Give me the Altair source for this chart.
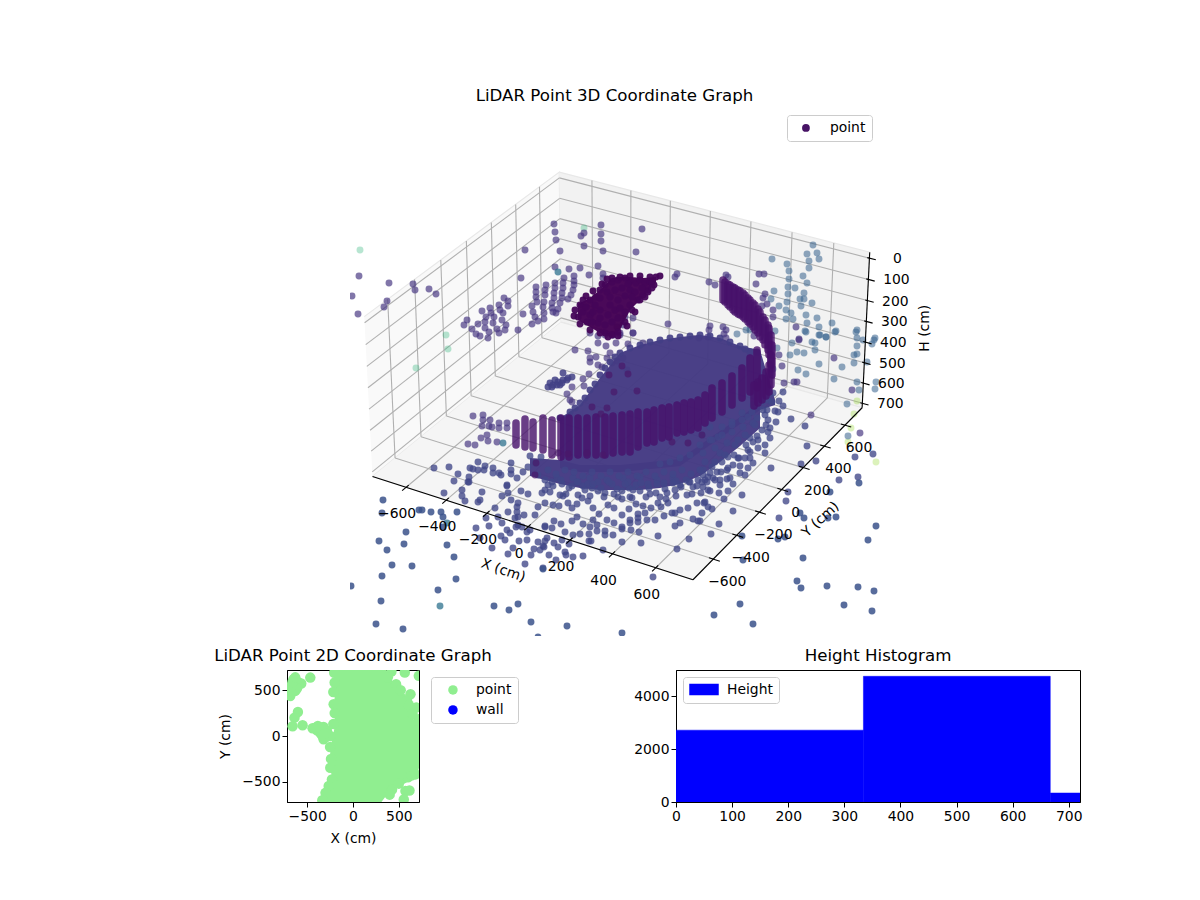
import numpy as np
import pandas as pd
import altair as alt

green_pts = [(360,250),(446,335),(448,349),(416,368),(584,228)]
lime_pts = [(857,401),(854,414),(851,428),(848,442),(876,462)]
teal_pts = [(558,272),(503,443),(447,523),(440,606)]
back_pts = [(359,276),(389,283),(413,284),(415,290),(429,289),(436,294),(352,296),(387,301),(384,307),(358,314),
    (554,224),(555,232),(556,240),(525,250),(560,251),(601,225),(601,234),(601,241),(584,246),(603,251),(584,233),(581,236),
    (555,267),(569,269),(580,268),(589,275),(598,266),(603,274),(603,278),(521,278),
    (574,276),(574,281),(574,285),(573,290),(571,295),(568,299),(564,278),(563,283),(563,288),(562,293),(562,298),(560,303),(558,309),(556,313),
    (555,283),(555,288),(554,293),(554,298),(552,303),(552,308),(553,312),(546,285),(545,290),(545,295),(544,302),(543,307),(544,313),(544,319),
    (536,287),(536,292),(536,297),(537,302),(532,306),(533,312),(535,317),(538,321),(532,324),(523,314),(518,330),
    (504,298),(508,301),(508,306),(499,305),(500,310),(503,313),(502,320),(506,325),(505,330),(499,333),(497,329),(493,323),(494,317),(490,308),(491,313),
    (482,311),(486,317),(485,322),(478,324),(485,328),(489,332),(467,320),(464,325),(472,329),(476,334),(480,336),(488,338),
    (642,229),(636,252),(677,274),(675,277),(709,282),(715,285),(726,275),(728,277),(759,274),(764,274),(756,284),(765,294),(763,298),(767,304),(762,306),
    (773,310),(773,317),(796,327),(668,324),(633,318),(633,333),(710,326),(709,330),(708,337),(723,327),(726,330),(724,334),(699,338),(726,338),(799,339),(754,336),
    (625,317),(617,327),(623,325),(613,335),(620,333),
    (590,333),(598,336),(605,335),(613,335),(620,335),(633,333),(598,343),(616,343),(628,344),(575,350),(588,351),(606,346),(610,353),(590,358),(590,362),
    (596,357),(598,365),(607,358),(602,367),(612,363),(589,374),(583,379),(584,386),(572,387),(567,394),(570,400),(572,402),(617,361),(623,358),(643,343),(627,370),
    (779,355),(782,366),(784,383),(797,382),(794,382),(799,340),(834,358),(852,390),(811,415),(860,433),
    (473,416),(483,415),(483,420),(490,420),(482,426),(489,426),(499,423),(507,423),(492,427),(499,428),(507,428),(487,435),(481,438),(488,441),(468,444),(475,445),(497,442)]
blue_pts = [(772,259),(787,264),(789,271),(789,279),(788,287),(795,288),(788,294),(787,302),(786,310),(786,319),(791,313),(793,319),(803,276),(807,283),
    (813,245),(807,254),(817,253),(809,261),(819,259),(809,268),(804,293),(800,299),(804,299),(801,306),(812,303),(806,315),(817,318),(807,323),(819,327),(805,331),
    (832,323),(836,331),(820,335),(826,337),(856,332),(857,330),(857,338),(874,340),(774,291),(775,331),(746,330),(750,330),(737,334),(771,299),(779,306),
    (777,348),(790,355),(797,352),(804,353),(815,350),(815,343),(812,342),(792,343),(806,332),(819,335),(826,337),(835,332),(842,367),(819,364),(834,379),(854,363),
    (854,355),(857,354),(857,346),(863,340),(872,344),(875,338),(867,362),(857,382),(876,382),(875,389),(859,390),(847,404),(848,436),(798,370),(806,374),(773,369)]
floor_pts = [(434,468),(449,467),(458,474),(470,468),(473,469),(478,462),(485,466),(478,470),(484,470),(493,468),(493,473),(499,473),(501,475),(454,481),(469,477),(468,482),
    (511,463),(511,470),(511,474),(507,485),(530,456),(541,457),(535,463),(528,467),(523,472),(517,478),(538,475),
    (444,493),(462,490),(482,492),(462,496),(465,501),(480,500),(478,502),(469,482),(495,508),(486,518),(508,512),(498,517),(489,526),(502,523),(476,528),(480,538),
    (507,530),(510,533),(501,536),(505,540),(492,548),(513,548),(519,541),(527,540),(508,554),(531,555),(534,549),(540,550),(538,542),(544,547),(516,527),(518,525),
    (524,515),(535,515),(517,512),(517,507),(518,503),(502,496),(511,500),(508,493),(507,486),(521,491),(528,494),(538,507),(542,493),(525,564),(543,568),(545,527),
    (527,532),(530,530),(515,518),(518,517),(522,527),
    (545,526),(552,528),(554,521),(561,524),(565,532),(573,535),(572,521),(577,517),(583,524),(580,534),(589,534),(590,527),(593,520),(597,525),(597,531),(605,531),
    (605,535),(613,535),(614,523),(607,520),(599,514),(593,508),(582,498),(588,501),(577,504),(568,503),(572,508),(553,505),(559,506),(545,503),(560,495),(563,496),
    (572,486),(583,486),(592,488),(598,491),(605,493),(608,505),(614,508),(622,515),(622,499),(629,509),(636,504),(643,506),(651,508),(658,503),(661,507),(650,494),
    (656,493),(640,491),(630,497),(629,488),(622,491),(614,494),(630,520),(630,523),(638,518),(638,522),(645,513),(647,520),(655,520),(638,514),(664,516),(672,513),
    (675,513),(680,510),(688,508),(697,503),(705,502),(693,519),(698,521),(680,523),(675,526),(622,527),(622,529),(631,530),(639,532),(658,536),(689,539),(622,542),
    (641,543),(677,549),(603,550),(589,541),(591,541),(583,556),(573,557),(565,552),(569,544),(562,540),(554,543),(547,538),(545,541),(543,546),(558,547),(549,555),
    (556,560),(566,555),(653,577),(667,493),(666,499),(668,503),(675,490),(687,495),(680,485),(693,487),(703,487),(690,482),(673,478),(657,480),(640,477),(623,478),
    (607,480),(590,478),(573,478),(557,478),(548,485),(545,490),
    (855,457),(873,454),(791,419),(805,426),(807,446),(816,461),(801,464),(771,468),(839,480),(858,477),(783,392),(773,393),(768,400),(779,401),(783,406),(775,411),
    (763,410),(757,418),(768,420),(770,428),(765,445),(765,453),(750,438),(753,442),(738,440),(750,452),(753,463),(739,458),(745,458),(748,468),(740,473),(745,475),
    (727,470),(717,472),(712,467),(733,465),(728,457),(720,453),(715,448),(727,443),(718,437),(710,440),(732,432),(743,427),(753,423),(748,417),(762,430),(742,413),
    (732,422),(722,427),(710,427),(702,435),(703,453),(703,470),(753,405),(767,410),
    (788,492),(786,501),(779,518),(742,495),(733,511),(719,524),(711,534),(724,499),(728,491),(719,493),(733,484),(727,479),(710,491),(701,493),(704,503),(708,507),
    (712,509),(702,513),(700,521),(715,480),(720,480),(707,482),(702,482),(703,475),(710,473),
    (548,470),(556,474),(565,470),(574,472),(583,476),(592,472),(601,476),(610,472),(619,476),(628,472),(637,476),(646,472),(655,476),(664,472),(673,474),(682,470),(691,474),(700,470),
    (552,482),(562,484),(578,482),(588,484),(598,482),(612,484),(628,482),(636,485),(648,484),(664,483),(676,481),(686,480),(698,480),(708,477),(722,462),(734,455),(746,445),(757,436),(766,425),
    (545,480),(553,486),(561,480),(569,488),(577,482),(585,490),(593,484),(601,488),(609,482),(617,489),(625,484),(633,490),(641,483),(649,488),(657,484),(665,489),(673,483),
    (681,487),(689,482),(697,486),(705,480),(713,478),(721,472),(550,492),(566,494),(578,495),(590,496),(604,497),(618,497),(632,498),(646,497),(660,497),(676,496),(692,494),
    (708,490),(720,485),(730,478),(740,466),(750,458),(758,448),(770,438),(725,455),(735,445),(745,435),(755,425),(765,415),(715,462),(705,462),(728,468),(738,458),(748,450),
    (758,440),(768,432),(778,412),(776,422),(772,402),(712,440),(722,435),(732,425),(742,420),(752,412),(762,402),(700,445),(690,455),(680,458),(670,462),(660,464)]
outer_pts = [(383,500),(382,513),(419,510),(422,510),(431,512),(441,512),(457,512),(443,517),(443,527),(406,532),(379,541),(404,544),(447,545),(387,550),(454,557),
    (392,565),(412,566),(382,576),(456,579),(351,586),(438,590),(381,601),(494,606),(509,610),(518,604),(376,624),(403,629),(531,622),(538,637),(543,569),(567,626),(622,633),
    (800,513),(804,518),(828,518),(836,517),(830,492),(859,483),(876,526),(868,540),(742,536),(778,539),(785,537),(803,558),(743,560),(797,581),(801,588),(827,586),
    (858,587),(874,591),(844,605),(872,611),(740,604),(714,615),(753,624)]
cluster_pts = [(580,305),(583,312),(578,317),(587,322),(590,300),(596,297),(600,290),(605,285),(612,282),(618,280),(625,278),(630,281),(636,283),(640,280),(645,283),
    (650,282),(656,277),(652,283),(648,290),(643,295),(638,300),(630,305),(625,312),(618,318),(612,322),(605,325),(598,323),(592,322),(590,315),(586,307),(595,305),
    (600,298),(607,292),(615,290),(622,288),(630,290),(635,292),(600,310),(610,305),(618,300),(625,296),(608,315),(600,318),(593,312),(615,310),(610,297),(620,308),
    (632,297),(642,288),(628,284),(612,335),(618,332),(605,333),(625,322),(632,310),(640,300),(648,292),(654,285),(612,278),(620,277),(630,276),(640,276),(650,277),
    (583,300),(575,310),(574,316),(580,324),(590,330),(600,333),(608,337),(618,336),(627,326),(635,312),(645,297),(652,288),(660,276),(586,296),(593,291),(602,284),(607,279)]
small_blob_pts = [(550,383),(553,385),(558,382),(563,380),(568,378),(572,377),(555,380),(560,385),(548,387),(563,373),(552,387),(557,385),(562,383),(567,380)]
blob_edge_pts = [(620,353),(630,348),(640,345),(650,342),(660,340),(670,338),(680,337),(690,336),(700,335),(710,336),(720,338),(730,342),(740,346),(750,352),
    (610,362),(600,375),(590,390),(580,403),(570,412),(560,418),(575,408),(585,398),(595,384),(605,368),(615,357),(745,349),(757,352)]
dark_dots = [(622,366),(609,375),(628,374),(614,392),(637,391),(592,407),(607,408),(601,414),
    (536,463),(535,475),(568,454),(587,453),(603,455),(672,442),(688,443),(702,435),(558,453)]

# stacks of the wall: x, top, bottom
wall_x = [516,525,533,543,552,561,569,578,587,596,605,613,622,630,638,647,654,662,669,677,684,691,698,705,712,722,732,742,750,757,
    723,725,728,730,733,735,738,740,743,745,748,750,753,755,758,760,763,765,768,769,771,772,771,769,766,762,758,754]
wall_top = [423,419,422,418,420,418,418,418,418,417,417,416,415,414,412,412,410,408,407,405,403,402,400,395,388,383,376,368,358,350,
    280,282,284,285,287,288,290,291,293,295,298,300,303,305,309,312,317,320,325,328,335,345,355,365,372,378,382,385]
wall_bot = [445,447,448,450,455,457,457,455,455,455,455,453,452,452,447,443,442,438,437,433,432,430,428,423,418,412,405,398,392,388,
    300,302,305,307,310,312,314,315,317,319,322,324,327,330,333,337,340,345,350,355,365,375,385,392,396,400,403,406]

# dense middle of the cloud
blob_x = [560,580,600,620,640,660,680,700,720,740,760,775]
blob_top = [418,405,378,353,345,340,337,335,338,346,350,400]
blob_bot = [468,472,472,472,470,468,466,452,438,424,410,405]
haze_x = [530,560,580,600,620,640,660,680,700,720,740,760]
haze_top = [458,460,465,465,465,463,461,459,445,431,417,403]
haze_bot = [476,484,488,490,490,490,488,484,476,462,446,428]
cluster_x = [578,590,600,612,620,630,643,656]
cluster_top = [304,298,290,278,277,277,278,277]
cluster_bot = [320,327,333,337,330,310,297,282]

x_ticks = [-600,-400,-200,0,200,400,600]
y_ticks = [-600,-400,-200,0,200,400,600]
h_ticks = [0,100,200,300,400,500,600,700]

# 2d panel
foot_y = [-720,-640,-583,-520,-470,-420,-346,-200,-100,20,100,180,270,350,430,490,565,640,720]
foot_left = [-340,-300,-270,-255,-235,-235,-250,-250,-240,-215,-200,-200,-205,-205,-200,-195,-215,-205,-205]
foot_right = [310,370,430,560,650,700,720,720,720,720,690,660,640,610,590,530,455,400,360]
scatter_2d = [(-648,619),(-674,546),(-594,583),(-630,492),(-685,437),(-703,510),(-565,572),(-466,637),(-601,262),(-638,200),(-659,106),(-550,117),(-441,84),(-383,109),
    (-321,98),(-357,36),(-321,-36),(-284,55),(-393,62),(-248,0),(-211,346),(-200,583),(-248,-346),(-230,-474),(565,692),(718,656),(470,565),(627,455),(590,383),(689,310),
    (718,182),(572,-601),(616,-594),(554,-692),(419,703),(681,-419),(426,-583),(-205,690),(-215,480),(-200,250),(-215,130),(-250,-120),(-240,-250),(-265,-545),(-300,-620),
    (-335,-700),(400,-640),(500,-520),(600,-450),(640,-430),(380,640),(520,500),(610,340),(650,240),(680,130),(700,60),
    (-620,560),(-650,500),(-610,520),(-670,480),(-660,590),(-630,640),(-300,60),(-330,50),(-290,-10),(-340,10),(-370,70),(-410,90),(-350,90),(-300,30)]

# histogram
hist_left = [0,334,667]
hist_right = [334,667,1001]
hist_count = [2717,4755,340]

# matplotlib camera, elev 30 azim -60, box aspect 1:1:0.5
XMIN, XMAX = -770, 770
YMIN, YMAX = -770, 770
HBOT, HTOP = 722, -28
LX, LZ = 1.2705, 0.6353
CAM_U = np.array([0.86603, 0.5, 0.0])
CAM_V = np.array([-0.25, 0.43301, 0.86603])
CAM_W = np.array([0.43301, -0.75, 0.5])

def project(x, y, h):
    d = np.array([((x - XMIN) / (XMAX - XMIN) - 0.5) * LX,
                  ((y - YMIN) / (YMAX - YMIN) - 0.5) * LX,
                  ((HBOT - h) / (HBOT - HTOP) - 0.5) * LZ])
    depth = 10 - CAM_W @ d
    u = (CAM_U @ d) / depth
    v = (CAM_V @ d) / depth
    return 350 + (u + 0.095) * 530 / 0.185, 106 + (0.09 - v) * 530 / 0.185

def seg(a, b):
    xa, ya = project(*a)
    xb, yb = project(*b)
    return {"x0": xa, "y0": ya, "x1": xb, "y1": yb}

sx = alt.Scale(domain=[287, 880], nice=False, zero=False)
sy = alt.Scale(domain=[636, 106], nice=False, zero=False)
X = alt.X("x:Q", scale=sx, axis=None)
Y = alt.Y("y:Q", scale=sy, axis=None)

def dots(rows, h, opacity):
    df = pd.DataFrame(rows, columns=["x", "y"]).assign(h=h)
    return alt.Chart(df).mark_circle(size=48, opacity=opacity, clip=True).encode(
        x=X, y=Y,
        color=alt.Color("h:Q", scale=alt.Scale(scheme="viridis", domain=[0, 1000]), legend=None))

def pane(corners, fill):
    rows = [dict(zip(("x", "y"), project(*c)), i=i) for i, c in enumerate(corners)]
    return alt.Chart(pd.DataFrame(rows)).mark_line(filled=True, fill=fill, stroke="#e8e8e8", strokeWidth=1.2).encode(x=X, y=Y, order="i:Q")

def rules(rows, color, width):
    return alt.Chart(pd.DataFrame(rows)).mark_rule(color=color, strokeWidth=width).encode(
        x=alt.X("x0:Q", scale=sx, axis=None), y=alt.Y("y0:Q", scale=sy, axis=None),
        x2="x1:Q", y2="y1:Q")

def tick_text(rows, dx, dy):
    return alt.Chart(pd.DataFrame(rows)).mark_text(dx=dx, dy=dy, fontSize=13.9, color="black", font="DejaVu Sans").encode(x=X, y=Y, text="t:N")

def band(xs, tops, bots, color, opacity):
    return alt.Chart(pd.DataFrame({"x": xs, "y": tops, "y2": bots})).mark_area(color=color, opacity=opacity).encode(x=X, y=Y, y2="y2:Q")

panes = (pane([(XMIN,YMIN,HBOT),(XMIN,YMAX,HBOT),(XMIN,YMAX,HTOP),(XMIN,YMIN,HTOP)], "#f9f9f9")
    + pane([(XMIN,YMAX,HBOT),(XMAX,YMAX,HBOT),(XMAX,YMAX,HTOP),(XMIN,YMAX,HTOP)], "#f2f2f2")
    + pane([(XMIN,YMIN,HBOT),(XMAX,YMIN,HBOT),(XMAX,YMAX,HBOT),(XMIN,YMAX,HBOT)], "#f5f5f5"))

grid_rows = []
for t in x_ticks:
    grid_rows += [seg((t,YMIN,HBOT),(t,YMAX,HBOT)), seg((t,YMAX,HBOT),(t,YMAX,HTOP))]
for t in y_ticks:
    grid_rows += [seg((XMIN,t,HBOT),(XMAX,t,HBOT)), seg((XMIN,t,HBOT),(XMIN,t,HTOP))]
for t in h_ticks:
    grid_rows += [seg((XMIN,YMIN,t),(XMIN,YMAX,t)), seg((XMIN,YMAX,t),(XMAX,YMAX,t))]
grid = rules(grid_rows, "#b0b0b0", 1.1)

axis_rows = [seg((XMIN,YMIN,HBOT),(XMAX,YMIN,HBOT)), seg((XMAX,YMIN,HBOT),(XMAX,YMAX,HBOT)), seg((XMAX,YMAX,HBOT),(XMAX,YMAX,HTOP))]
axis_rows += [seg((t,YMIN-30,HBOT),(t,YMIN+20,HBOT)) for t in x_ticks]
axis_rows += [seg((XMAX-20,t,HBOT),(XMAX+30,t,HBOT)) for t in y_ticks]
axis_rows += [seg((XMAX-10,YMAX,t),(XMAX+30,YMAX,t)) for t in h_ticks]
axes3d = rules(axis_rows, "black", 1.1)

def labels(points, ticks):
    return [dict(zip(("x", "y"), project(*p)), t=str(t).replace("-", "\u2212")) for p, t in zip(points, ticks)]

x_text = tick_text(labels([(t,YMIN,HBOT) for t in x_ticks], x_ticks), -9, 27)
y_text = tick_text(labels([(XMAX,t,HBOT) for t in y_ticks], y_ticks), 14, 23)
h_text = tick_text(labels([(XMAX,YMAX,t) for t in h_ticks], h_ticks), 28, 1)

def axis_title(point, text, dx, dy, angle):
    xv, yv = project(*point)
    df = pd.DataFrame({"x": [xv + dx], "y": [yv + dy], "t": [text]})
    return alt.Chart(df).mark_text(angle=angle, fontSize=13.9, color="black", font="DejaVu Sans").encode(x=X, y=Y, text="t:N")

titles3d = (axis_title((0,YMIN,HBOT), "X (cm)", -25, 44, 19)
    + axis_title((XMAX,0,HBOT), "Y (cm)", 39, 30, 317)
    + axis_title((XMAX,YMAX,357), "H (cm)", 59, -5, 270))

wall = alt.Chart(pd.DataFrame({"x": wall_x, "y": wall_top, "y2": wall_bot})).mark_rule(
    color="#46106a", strokeWidth=7.5, strokeCap="round", opacity=0.8).encode(x=X, y=Y, y2="y2:Q")

mask = alt.Chart(pd.DataFrame({"x": [287], "x2": [350], "y": [636], "y2": [106]})).mark_rect(color="white").encode(
    x=X, x2="x2:Q", y=Y, y2="y2:Q")

legend_top = alt.Chart(pd.DataFrame({"name": ["point"]})).mark_circle(size=60, opacity=0).encode(
    x=alt.value(0), y=alt.value(0),
    color=alt.Color("name:N", scale=alt.Scale(domain=["point"], range=["#471365"]),
        legend=alt.Legend(title=None, orient="none", legendX=500, legendY=9, symbolOpacity=1, symbolSize=60,
            fillColor="white", strokeColor="#cccccc", cornerRadius=3, padding=6, labelOffset=17, symbolOffset=6)))

top = alt.layer(
    panes, grid,
    dots(green_pts, 650, 0.35), dots(lime_pts, 850, 0.35), dots(back_pts, 150, 0.68), dots(blue_pts, 300, 0.55),
    dots(teal_pts, 370, 0.75), band(haze_x, haze_top, haze_bot, "#443a83", 0.97),
    band(blob_x, blob_top, blob_bot, "#443a83", 0.97), dots(floor_pts, 210, 0.78), dots(outer_pts, 250, 0.85),
    dots(blob_edge_pts, 180, 0.9), dots(small_blob_pts, 190, 0.85),
    band(cluster_x, cluster_top, cluster_bot, "#440154", 0.97), dots(cluster_pts, 10, 0.95), wall, dots(dark_dots, 60, 0.7),
    mask, axes3d, x_text, y_text, h_text, titles3d, legend_top
).resolve_scale(color="independent").properties(
    width=593, height=530,
    title=alt.TitleParams("LiDAR Point 3D Coordinate Graph", dx=31, offset=-3),
    view=alt.ViewBackground(stroke="transparent"))

# 2d panel
sx2 = alt.Scale(domain=[-720, 720], nice=False)
sy2 = alt.Scale(domain=[-720, 720], nice=False)
X2D = alt.X("x:Q", scale=sx2, axis=alt.Axis(values=[-500,0,500], title="X (cm)", format="d", titlePadding=9))
Y2D = alt.Y("y:Q", scale=sy2, axis=alt.Axis(values=[-500,0,500], title="Y (cm)", format="d", titlePadding=9))

foot = alt.Chart(pd.DataFrame({"y": foot_y, "x": foot_left, "x2": foot_right})).mark_area(
    orient="horizontal", color="#90ee90", clip=True).encode(x=X2D, x2="x2:Q", y=Y2D)
cloud = alt.Chart(pd.DataFrame(scatter_2d, columns=["x","y"]).assign(name="point")).mark_circle(size=110, opacity=1, clip=True).encode(
    x=X2D, y=Y2D,
    color=alt.Color("name:N", scale=alt.Scale(domain=["point","wall"], range=["#90ee90","#0000ff"]),
        legend=alt.Legend(title=None, orient="none", legendX=144, legendY=7, symbolSize=90, symbolOpacity=1,
            fillColor="white", strokeColor="#cccccc", cornerRadius=3, padding=6, labelOffset=16, symbolOffset=9, rowPadding=5)))
left = alt.layer(foot, cloud).properties(width=132, height=132, title=alt.TitleParams("LiDAR Point 2D Coordinate Graph", offset=5),
    view=alt.ViewBackground(stroke="black", strokeWidth=1))

hist_df = pd.DataFrame({"a": hist_left, "b": hist_right, "n": hist_count, "base": 0, "name": "Height"})
right = alt.Chart(hist_df).mark_bar(clip=True, stroke="#0000ff", strokeWidth=0.5).encode(
    x=alt.X("a:Q", scale=alt.Scale(domain=[0,720], nice=False), axis=alt.Axis(values=[0,100,200,300,400,500,600,700], title=None)),
    x2="b:Q",
    y=alt.Y("n:Q", scale=alt.Scale(domain=[0,4993], nice=False), axis=alt.Axis(values=[0,2000,4000], title=None, format="d")),
    y2="base:Q",
    color=alt.Color("name:N", scale=alt.Scale(domain=["Height"], range=["#0000ff"]),
        legend=alt.Legend(title=None, orient="none", legendX=7, legendY=7, symbolType="M-1,-0.36H1V0.36H-1Z", symbolSize=784,
            clipHeight=13, fillColor="white", strokeColor="#cccccc", cornerRadius=3, padding=6, labelOffset=8))
).properties(width=404, height=132, title=alt.TitleParams("Height Histogram", offset=5),
    view=alt.ViewBackground(stroke="black", strokeWidth=1))

bottom = alt.hconcat(left, right, spacing=257, bounds="flush").resolve_scale(color="independent")

chart = alt.vconcat(top, bottom, spacing=10).resolve_scale(color="independent").properties(
    padding={"left": 205, "top": 79, "right": 10, "bottom": 10}, background="white"
).configure(font="DejaVu Sans").configure_title(
    fontSize=16.67, fontWeight="normal", color="black", anchor="middle"
).configure_axis(
    grid=False, domainColor="black", tickColor="black", labelColor="black", titleColor="black",
    labelFontSize=13.9, titleFontSize=13.9, titleFontWeight="normal", tickSize=5, labelFont="DejaVu Sans", labelFlush=False
).configure_legend(labelFontSize=13.9, labelColor="black", labelFont="DejaVu Sans")

chart.save("out.html", embed_options={"renderer": "svg", "actions": False})
